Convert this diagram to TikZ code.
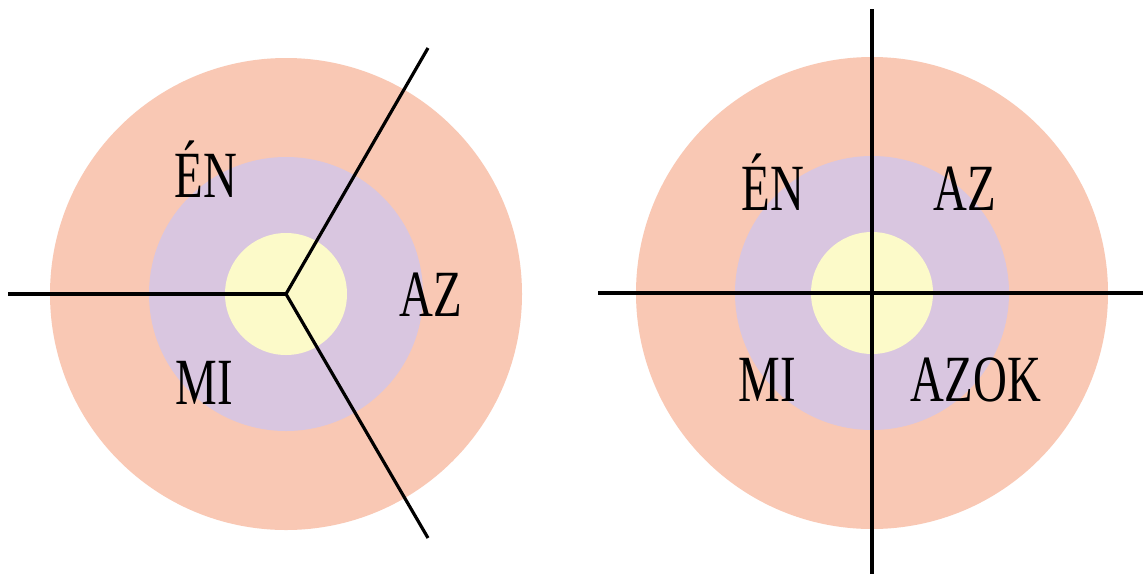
\documentclass[tikz,border=0pt]{standalone}
\usepackage{fontspec}
\setmainfont{Liberation Serif}
\definecolor{outerc}{HTML}{F9C8B4}
\definecolor{midc}{HTML}{D9C6E0}
\definecolor{innerc}{HTML}{FCFAC9}
\tikzset{
  divider/.style={line width=3.2pt, black},
  lbl/.style={inner sep=0pt, anchor=base, font=\fontsize{66}{70}\selectfont},
}
\newcommand{\cond}[1]{\scalebox{0.71}[1]{#1}}
\begin{document}
\begin{tikzpicture}[x=1pt,y=-1pt]
\useasboundingbox[fill=white] (0,0) rectangle (1143,574);
% left diagram
\coordinate (lc) at (286,294);
\fill[outerc] (lc) circle (236);
\fill[midc] (lc) circle (137);
\fill[innerc] (lc) circle (61);
\coordinate (lw) at (8,294);
\coordinate (lne) at (428,48);
\coordinate (lse) at (428,538);
\draw[divider] (lw) -- (lc);
\draw[divider] (lne) -- (lc) -- (lse);
\node[lbl] (len) at (206,197) {\cond{ÉN}};
\node[lbl] (laz) at (431,316) {\cond{AZ}};
\node[lbl] (lmi) at (204,404) {\cond{MI}};
% right diagram
\coordinate (rc) at (872,293);
\fill[outerc] (rc) circle (236);
\fill[midc] (rc) circle (137);
\fill[innerc] (rc) circle (61);
\coordinate (rn) at (872,9);
\coordinate (rs) at (872,574);
\coordinate (rw) at (598,293);
\coordinate (re) at (1143,293);
\draw[divider] (rn) -- (rs);
\draw[divider] (rw) -- (re);
\node[lbl] (ren) at (773,210) {\cond{ÉN}};
\node[lbl] (raz) at (965,210) {\cond{AZ}};
\node[lbl] (rmi) at (767,401) {\cond{MI}};
\node[lbl] (razok) at (976,401) {\cond{AZOK}};
\end{tikzpicture}
\end{document}
